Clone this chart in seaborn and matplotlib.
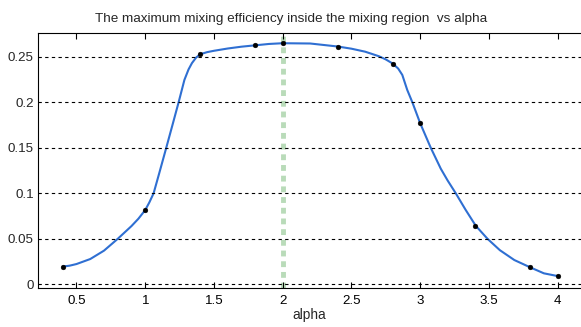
import numpy as np
import pandas as pd
import seaborn as sns
import matplotlib.pyplot as plt

# measured points
alpha = [0.4, 1.0, 1.4, 1.8, 2.0, 2.4, 2.8, 3.0, 3.4, 3.8, 4.0]
efficiency = [0.0193, 0.0816, 0.2527, 0.2630, 0.2648, 0.2611, 0.2425, 0.1770, 0.0642, 0.0187, 0.0091]

# smooth fitted curve
curve_alpha = [0.4, 0.45, 0.5, 0.6, 0.7, 0.8, 0.9, 0.95, 1.0, 1.03, 1.061, 1.1, 1.153, 1.2, 1.243,
               1.285, 1.315, 1.34, 1.37, 1.4, 1.45, 1.5, 1.6, 1.7, 1.8, 1.9, 2.0, 2.2,
               2.4, 2.5, 2.6, 2.7, 2.75, 2.8, 2.84, 2.87, 2.906, 2.943, 3.0, 3.077, 3.15,
               3.2, 3.259, 3.33, 3.405, 3.49, 3.58, 3.685, 3.8, 3.9, 4.0]
curve_eff = [0.0195, 0.0205, 0.0223, 0.0278, 0.037, 0.050, 0.064, 0.072, 0.0816, 0.090, 0.100, 0.121, 0.150, 0.176, 0.200,
             0.2245, 0.236, 0.243, 0.249, 0.2527, 0.2550, 0.2565, 0.259, 0.261, 0.2625, 0.264, 0.2648, 0.2645,
             0.2612, 0.2588, 0.2555, 0.2505, 0.2470, 0.2425, 0.2370, 0.2300, 0.2135, 0.200, 0.177, 0.150, 0.127,
             0.114, 0.100, 0.082, 0.0642, 0.050, 0.0375, 0.0267, 0.0187, 0.0121, 0.0091]

best_alpha = 2.0

pts = pd.DataFrame({'alpha': alpha, 'eff': efficiency})
crv = pd.DataFrame({'alpha': curve_alpha, 'eff': curve_eff})

sns.set_style("white")
plt.rcParams['font.family'] = ['Liberation Sans', 'DejaVu Sans']

fig = plt.figure(figsize=(5.81, 3.27), dpi=100)
ax = fig.add_axes([0.0654, 0.1193, 0.9346, 0.7797])

ax.axvline(best_alpha, color='#b9dbb9', lw=3.5, ls=(0, (1.2, 1.0)), zorder=1)
sns.lineplot(ax=ax, x='alpha', y='eff', data=crv, color='#2f6fd2', lw=1.5, zorder=2,
             solid_joinstyle='round')
sns.scatterplot(ax=ax, x='alpha', y='eff', data=pts, color='black', s=12, edgecolor='black', zorder=3)

ax.set_xlim(0.22, 4.17)
ax.set_ylim(-0.004, 0.276)
ax.set_xticks([0.5, 1, 1.5, 2, 2.5, 3, 3.5, 4])
ax.set_xticklabels(['0.5', '1', '1.5', '2', '2.5', '3', '3.5', '4'])
ax.set_yticks([0, 0.05, 0.1, 0.15, 0.2, 0.25])
ax.set_yticklabels(['0', '0.05', '0.1', '0.15', '0.2', '0.25'])
ax.yaxis.grid(True, color='black', ls=(0, (3, 3)), lw=0.8)
ax.set_axisbelow(False)
for sp in ['left', 'top', 'bottom']:
    ax.spines[sp].set_color('black')
    ax.spines[sp].set_linewidth(0.8)
ax.spines['right'].set_visible(False)
ax.tick_params(axis='x', direction='in', top=True, bottom=True, length=4, width=0.8, labelsize=9.6, pad=5, colors='black')
ax.tick_params(axis='y', length=0, labelsize=9.6, pad=3)
ax.set_xlabel('alpha', fontsize=9.8, labelpad=1)
ax.set_ylabel('')
ax.set_title('The maximum mixing efficiency inside the mixing region  vs alpha', fontsize=9.7, pad=8, x=0.466)

fig.savefig('out.png', dpi=100)
